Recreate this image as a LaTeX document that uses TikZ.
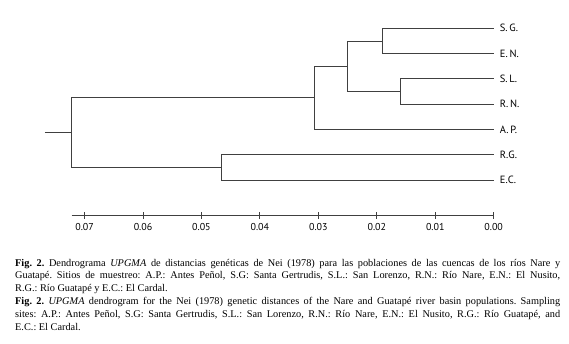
\documentclass[tikz,border=0pt]{standalone}
\usepackage{fontspec}
\setmainfont{Liberation Serif}
\newfontfamily\labfont{PT Sans}
\usetikzlibrary{positioning}
\begin{document}
\begin{tikzpicture}[x=-58.45pt,y=-1pt,
        branch/.style={draw=black!75,line width=0.9pt},
        taxon/.style={inner sep=0pt,font=\labfont\fontsize{10.5}{12}\selectfont},
        tick/.style={inner sep=0pt,font=\labfont\fontsize{10}{12}\selectfont}]
        \useasboundingbox (-493.7pt,0pt) rectangle (75.3pt,-343pt);
        % leaf ends and joins (x in 0.01 of distance)
        \coordinate (sg) at (0,28.3);
        \coordinate (en) at (0,53.6);
        \coordinate (sl) at (0,78.9);
        \coordinate (rn) at (0,104.2);
        \coordinate (ap) at (0,129.5);
        \coordinate (rg) at (0,154.8);
        \coordinate (ec) at (0,180.1);
        \coordinate (sgen) at (1.90,40.95);
        \coordinate (slrn) at (1.60,91.55);
        \coordinate (up) at (2.505,66.25);
        \coordinate (apj) at (3.07,97.9);
        \coordinate (rgec) at (4.66,167.45);
        \coordinate (root) at (7.22,132.7);
        \coordinate (stub) at (7.68,132.7);
        \node[taxon,right=6pt of sg] (SG) {S.\,G.};
        \node[taxon,right=6pt of en] (EN) {E.\,N.};
        \node[taxon,right=6pt of sl] (SL) {S.\,L.};
        \node[taxon,right=6pt of rn] (RN) {R.\,N.};
        \node[taxon,right=6pt of ap] (AP) {A.\,P.};
        \node[taxon,right=6pt of rg] (RG) {R.G.};
        \node[taxon,right=6pt of ec] (EC) {E.C.};
        \draw[branch] (sg) -| (sgen) |- (en);
        \draw[branch] (sl) -| (slrn) |- (rn);
        \draw[branch] (sgen) -| (up) |- (slrn);
        \draw[branch] (up) -| (apj) |- (ap);
        \draw[branch] (rg) -| (rgec) |- (ec);
        \draw[branch] (apj) -| (root) |- (rgec);
        \draw[branch] (stub) -- (root);
        % scale
        \coordinate (a0) at (0,215.3);
        \coordinate (a7) at (7.22,215.3);
        \draw[branch] (a7) -- (a0);
        \foreach \d in {0,...,7} {
            \draw[branch] (\d,212) -- (\d,218.7);
            \node[tick] (t\d) at (\d,226.7) {0.0\d};
        }
        \node[anchor=north west,inner sep=0pt,text width=545pt,align=justify,
            font=\fontsize{10.3}{12.8}\selectfont] (caption) at (-478.7pt,-258.8pt) {\frenchspacing
            \textbf{Fig. 2.} Dendrograma \textit{UPGMA} de distancias genéticas de Nei (1978) para las poblaciones de las cuencas de los ríos Nare y\linebreak
            Guatapé. Sitios de muestreo: A.P.: Antes Peñol, S.G: Santa Gertrudis, S.L.: San Lorenzo, R.N.: Río Nare, E.N.: El Nusito,\linebreak
            R.G.: Río Guatapé y E.C.: El Cardal.\par
            \textbf{Fig. 2.} \textit{UPGMA} dendrogram for the Nei (1978) genetic distances of the Nare and Guatapé river basin populations. Sampling\linebreak
            sites: A.P.: Antes Peñol, S.G: Santa Gertrudis, S.L.: San Lorenzo, R.N.: Río Nare, E.N.: El Nusito, R.G.: Río Guatapé, and\linebreak
            E.C.: El Cardal.};
    \end{tikzpicture}
\end{document}
